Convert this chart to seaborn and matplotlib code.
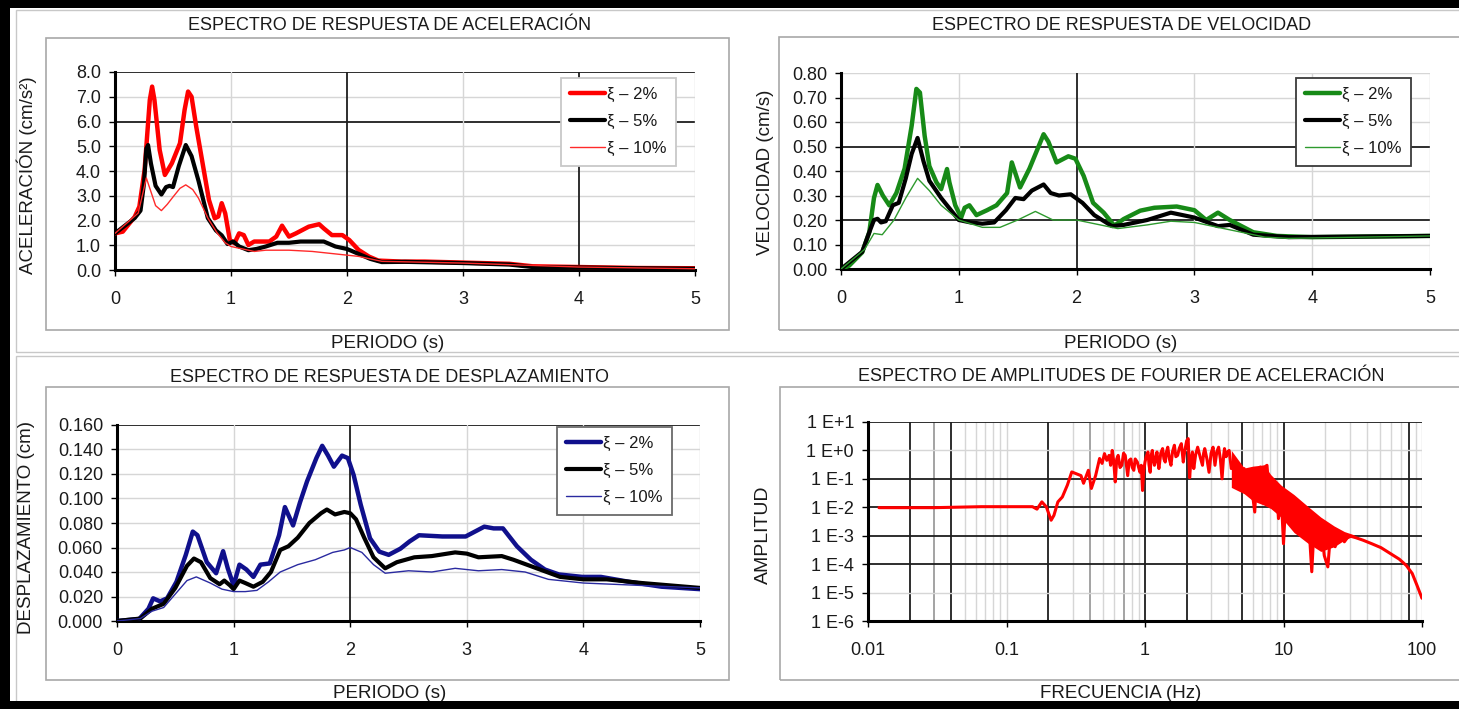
import numpy as np
import matplotlib
matplotlib.use("Agg")
import matplotlib.pyplot as plt
import seaborn as sns
from matplotlib.patches import Rectangle

sns.set_theme(style="white")
plt.rcParams["font.family"] = ["Liberation Sans", "DejaVu Sans"]

# ---------------- DATA ----------------
legend_labels = ["ξ – 2%", "ξ – 5%", "ξ – 10%"]
period_ticks = [0, 1, 2, 3, 4, 5]

# Acceleration response spectrum (cm/s2)
acc_T_2 = [0, 0.067, 0.17, 0.21, 0.255, 0.30, 0.32, 0.34, 0.385, 0.43, 0.49, 0.56, 0.60, 0.63, 0.66, 0.70,
           0.75, 0.81, 0.86, 0.89, 0.92, 0.95, 0.99, 1.03, 1.07, 1.11, 1.15, 1.2, 1.33, 1.39, 1.44, 1.50,
           1.56, 1.67, 1.76, 1.80, 1.87, 1.96, 2.02, 2.10, 2.19, 2.27, 2.47, 2.67, 3.0, 3.4, 3.6, 4.0, 4.5, 5.0]
acc_2 = [1.48, 1.55, 2.15, 2.56, 4.04, 6.87, 7.41, 6.87, 4.85, 3.84, 4.31, 5.12, 6.47, 7.21, 7.0, 5.8,
         4.45, 2.83, 2.09, 2.16, 2.70, 2.29, 1.21, 1.08, 1.48, 1.41, 1.01, 1.15, 1.15, 1.35, 1.79, 1.35,
         1.48, 1.75, 1.85, 1.68, 1.41, 1.41, 1.21, 0.81, 0.54, 0.38, 0.34, 0.34, 0.30, 0.25, 0.15, 0.12, 0.08, 0.07]
acc_T_5 = [0, 0.17, 0.22, 0.25, 0.27, 0.285, 0.31, 0.35, 0.40, 0.44, 0.47, 0.50, 0.55, 0.61, 0.66, 0.72,
           0.80, 0.87, 0.92, 0.97, 1.02, 1.07, 1.15, 1.22, 1.3, 1.4, 1.5, 1.6, 1.8, 1.9, 2.0, 2.1, 2.2,
           2.3, 2.5, 2.8, 3.0, 3.4, 3.6, 4.0, 4.5, 5.0]
acc_5 = [1.48, 2.1, 2.4, 3.5, 4.9, 5.05, 4.3, 3.4, 3.05, 3.35, 3.4, 3.35, 4.2, 5.05, 4.6, 3.6,
         2.1, 1.6, 1.4, 1.05, 1.15, 0.95, 0.8, 0.85, 0.95, 1.1, 1.1, 1.15, 1.15, 0.95, 0.85, 0.65, 0.45,
         0.32, 0.33, 0.30, 0.28, 0.22, 0.12, 0.10, 0.07, 0.05]
acc_T_10 = [0, 0.2, 0.25, 0.27, 0.30, 0.35, 0.4, 0.45, 0.5, 0.56, 0.61, 0.67, 0.72, 0.8, 0.88, 0.95,
            1.0, 1.1, 1.2, 1.3, 1.5, 1.7, 1.9, 2.0, 2.1, 2.2, 2.3, 2.5, 3.0, 3.5, 4.0, 5.0]
acc_10 = [1.48, 2.3, 3.3, 3.72, 3.3, 2.6, 2.4, 2.65, 2.95, 3.3, 3.44, 3.25, 2.9, 2.1, 1.5, 1.1,
          0.95, 0.85, 0.75, 0.8, 0.8, 0.75, 0.65, 0.6, 0.55, 0.45, 0.35, 0.33, 0.28, 0.2, 0.12, 0.05]

# Velocity response spectrum (cm/s)
vel_T_2 = [0, 0.07, 0.18, 0.24, 0.28, 0.31, 0.355, 0.41, 0.47, 0.54, 0.60, 0.64, 0.67, 0.71, 0.75, 0.81,
           0.85, 0.90, 0.92, 0.97, 1.02, 1.05, 1.09, 1.15, 1.24, 1.32, 1.41, 1.45, 1.52, 1.60, 1.72, 1.76,
           1.83, 1.93, 1.99, 2.06, 2.14, 2.23, 2.32, 2.40, 2.54, 2.66, 2.85, 3.0, 3.1, 3.2, 3.3, 3.5,
           3.7, 4.0, 5.0]
vel_2 = [0, 0.014, 0.068, 0.15, 0.29, 0.343, 0.30, 0.26, 0.31, 0.41, 0.585, 0.735, 0.72, 0.544, 0.42, 0.354,
         0.326, 0.408, 0.354, 0.26, 0.21, 0.25, 0.26, 0.22, 0.24, 0.26, 0.31, 0.435, 0.333, 0.41, 0.55, 0.52,
         0.435, 0.46, 0.45, 0.38, 0.27, 0.23, 0.177, 0.204, 0.238, 0.25, 0.255, 0.24, 0.20, 0.23, 0.20, 0.15,
         0.135, 0.13, 0.135]
vel_T_5 = [0, 0.18, 0.24, 0.28, 0.31, 0.34, 0.38, 0.44, 0.49, 0.55, 0.60, 0.65, 0.70, 0.75, 0.85, 0.95,
           1.0, 1.1, 1.2, 1.3, 1.4, 1.48, 1.55, 1.62, 1.72, 1.78, 1.85, 1.95, 2.05, 2.15, 2.3, 2.4, 2.6,
           2.8, 3.0, 3.2, 3.3, 3.5, 3.8, 5.0]
vel_5 = [0, 0.07, 0.15, 0.20, 0.205, 0.19, 0.195, 0.26, 0.27, 0.37, 0.47, 0.535, 0.44, 0.36, 0.29, 0.23,
         0.20, 0.19, 0.185, 0.19, 0.24, 0.29, 0.285, 0.32, 0.345, 0.31, 0.30, 0.305, 0.27, 0.22, 0.175, 0.18, 0.20,
         0.23, 0.21, 0.175, 0.18, 0.14, 0.13, 0.135]
vel_T_10 = [0, 0.2, 0.28, 0.35, 0.45, 0.55, 0.65, 0.75, 0.85, 1.0, 1.2, 1.35, 1.5, 1.65, 1.8, 2.0,
            2.2, 2.35, 2.6, 2.8, 3.0, 3.3, 3.6, 3.8, 5.0]
vel_10 = [0, 0.08, 0.145, 0.14, 0.20, 0.29, 0.37, 0.32, 0.26, 0.20, 0.17, 0.17, 0.20, 0.235, 0.20, 0.20,
          0.18, 0.165, 0.18, 0.195, 0.19, 0.16, 0.13, 0.125, 0.135]

# Displacement response spectrum (cm)
dis_T_2 = [0, 0.19, 0.27, 0.31, 0.37, 0.43, 0.51, 0.59, 0.65, 0.69, 0.77, 0.85, 0.91, 0.95, 1.0, 1.05,
           1.11, 1.17, 1.23, 1.31, 1.39, 1.44, 1.51, 1.57, 1.63, 1.71, 1.76, 1.81, 1.86, 1.93, 1.98, 2.03,
           2.09, 2.17, 2.25, 2.33, 2.43, 2.51, 2.59, 2.79, 2.99, 3.15, 3.23, 3.31, 3.43, 3.55, 3.67, 3.79,
           3.99, 4.15, 4.39, 4.67, 5.0]
dis_2 = [0, 0.0016, 0.010, 0.0185, 0.016, 0.0185, 0.032, 0.054, 0.073, 0.070, 0.048, 0.039, 0.057, 0.043, 0.029, 0.046,
         0.042, 0.036, 0.046, 0.047, 0.070, 0.093, 0.078, 0.097, 0.114, 0.133, 0.143, 0.135, 0.126, 0.135, 0.133, 0.119,
         0.095, 0.0675, 0.0566, 0.054, 0.059, 0.065, 0.070, 0.069, 0.069, 0.077, 0.0756, 0.0756, 0.061, 0.050, 0.042, 0.038,
         0.036, 0.036, 0.032, 0.028, 0.026]
dis_T_5 = [0, 0.2, 0.3, 0.4, 0.5, 0.6, 0.66, 0.72, 0.8, 0.88, 0.92, 0.97, 1.0, 1.05, 1.1, 1.17,
           1.25, 1.32, 1.4, 1.47, 1.55, 1.65, 1.75, 1.8, 1.87, 1.95, 2.0, 2.05, 2.12, 2.2, 2.3, 2.4,
           2.55, 2.7, 2.9, 3.0, 3.1, 3.3, 3.4, 3.6, 3.8, 4.0, 4.2, 4.5, 5.0]
dis_5 = [0, 0.002, 0.010, 0.014, 0.027, 0.045, 0.051, 0.048, 0.035, 0.030, 0.033, 0.029, 0.026, 0.033, 0.031, 0.028,
         0.032, 0.040, 0.058, 0.061, 0.068, 0.080, 0.088, 0.091, 0.087, 0.089, 0.088, 0.083, 0.068, 0.052, 0.043, 0.048,
         0.052, 0.053, 0.056, 0.055, 0.052, 0.053, 0.050, 0.043, 0.036, 0.034, 0.034, 0.031, 0.027]
dis_T_10 = [0, 0.2, 0.3, 0.4, 0.5, 0.6, 0.68, 0.8, 0.9, 1.0, 1.1, 1.2, 1.3, 1.4, 1.55, 1.7,
            1.85, 1.95, 2.0, 2.1, 2.2, 2.3, 2.5, 2.7, 2.9, 3.1, 3.3, 3.5, 3.7, 4.0, 4.5, 5.0]
dis_10 = [0, 0.002, 0.008, 0.011, 0.022, 0.033, 0.036, 0.031, 0.026, 0.024, 0.024, 0.025, 0.032, 0.040, 0.046, 0.050,
          0.056, 0.058, 0.060, 0.056, 0.046, 0.039, 0.041, 0.040, 0.043, 0.041, 0.042, 0.040, 0.034, 0.031, 0.029, 0.027]

# Fourier amplitude spectrum of acceleration
four_f = [0.012, 0.03, 0.066, 0.10, 0.154, 0.166, 0.18, 0.194, 0.21, 0.22, 0.235, 0.253, 0.275, 0.296, 0.32,
          0.345, 0.36, 0.39, 0.41, 0.44, 0.47, 0.49, 0.51, 0.53, 0.55, 0.565, 0.58, 0.595, 0.61, 0.625,
          0.64, 0.66, 0.68, 0.70, 0.72, 0.735, 0.75, 0.77, 0.79, 0.81, 0.83, 0.85, 0.88, 0.90, 0.92,
          0.94, 0.96, 0.98, 1.0, 1.02, 1.05, 1.07, 1.09, 1.11, 1.13, 1.15, 1.17, 1.20, 1.22, 1.24, 1.26,
          1.30, 1.34, 1.37, 1.40, 1.43, 1.46, 1.50, 1.54, 1.58, 1.63, 1.67, 1.72, 1.77, 1.83, 1.86, 1.89,
          1.94, 2.0, 2.05, 2.1, 2.15, 2.2, 2.25, 2.32, 2.4, 2.5, 2.6, 2.65, 2.7, 2.8, 2.9, 3.0, 3.1,
          3.2, 3.3, 3.4, 3.5, 3.6, 3.7, 3.75, 3.85, 3.95, 4.05,
          4.2, 4.4, 4.6, 4.8, 5.0, 5.2, 5.4, 5.6, 5.9, 6.2, 6.4, 6.8, 7.0, 7.3, 7.6, 7.9, 8.2, 8.5,
          8.9, 9.2, 9.6, 10.0, 10.4, 10.8, 11.2, 11.6, 12.1, 12.5, 13.4, 14.2, 15.1, 16.0, 16.7, 17.7,
          18.6, 19.7, 20.9, 22.0, 23.6, 25.5, 27.5, 29.6, 33.3, 37.4, 43.5, 50.6, 58.8, 68.5, 77.0, 85.0,
          92.0, 100.0]
four_amp = [0.0097, 0.0097, 0.0105, 0.0105, 0.0105, 0.0086, 0.0155, 0.0103, 0.0035, 0.0052, 0.0155, 0.023,
            0.06, 0.175, 0.15, 0.13, 0.07, 0.2, 0.046, 0.13, 0.52, 0.35, 0.77, 0.45, 0.67, 0.3, 1.0, 0.4,
            0.078, 0.5, 0.67, 0.25, 0.3, 0.8, 0.67, 0.3, 0.13, 0.45, 0.5, 0.25, 0.2, 0.5, 0.39, 0.25, 0.17,
            0.3, 0.039, 0.2, 0.39, 0.6, 0.88, 0.3, 0.17, 0.7, 1.0, 0.45, 0.3, 0.6, 0.88, 0.4, 0.23,
            0.8, 1.16, 0.5, 0.39, 0.9, 1.3, 0.5, 0.3, 0.9, 1.52, 0.6, 0.67, 1.2, 1.73, 0.8, 0.39,
            1.0, 2.2, 2.6, 0.11, 0.5, 0.88, 0.23, 0.7, 1.3, 0.6, 0.3, 0.8, 1.16, 0.5, 0.17, 0.8, 1.3,
            0.3, 0.9, 1.3, 0.5, 0.1, 0.7, 1.16, 0.6, 0.88, 1.0,
            0.23, 0.39, 0.078, 0.3, 0.046, 0.23, 0.06, 0.2, 0.046, 0.0068, 0.17, 0.26, 0.046,
            0.26, 0.3, 0.027, 0.1, 0.009, 0.06, 0.004, 0.035, 0.00052, 0.02, 0.0053, 0.015, 0.0023, 0.0118,
            0.0014, 0.009, 0.0011, 0.0053, 0.000054, 0.0031, 0.00061, 0.0023, 0.0002, 0.00008, 0.0018,
            0.00041, 0.0013, 0.00061, 0.001, 0.00085, 0.0007, 0.00052, 0.00038, 0.00024, 0.00015, 0.00009,
            0.000047, 0.000018, 0.0000063]
# dense band of the spectrum (upper / lower envelope)
band_f = [4.2, 5.2, 6.0, 7.2, 8.1, 9.6, 11.9, 14.9, 18.6, 23.2, 27.5, 32.4]
band_hi = [1.0, 0.24, 0.28, 0.31, 0.14, 0.06, 0.028, 0.011, 0.0045, 0.0022, 0.0014, 0.00107]
band_lo = [0.05, 0.03, 0.017, 0.012, 0.009, 0.0045, 0.0013, 0.00056, 0.00028, 0.00041, 0.0007, 0.001]
four_xticks = [0.01, 0.1, 1, 10, 100]
four_xlabels = ["0.01", "0.1", "1", "10", "100"]
four_yticks = [1e1, 1e0, 1e-1, 1e-2, 1e-3, 1e-4, 1e-5, 1e-6]
four_ylabels = ["1 E+1", "1 E+0", "1 E-1", "1 E-2", "1 E-3", "1 E-4", "1 E-5", "1 E-6"]

# ---------------- FIGURE ----------------
W, H = 1459, 709
fig = plt.figure(figsize=(W / 100, H / 100), dpi=100)
fig.patch.set_facecolor("white")


def frac(l, t, r, b):
    return [l / W, 1 - b / H, (r - l) / W, (b - t) / H]


DARK = "#1e1e1e"
LIGHT = "#d6d6d6"
TXT = "#1a1a1a"
TICK_SIZE = 13


def style_spines(ax):
    for s in ["top", "right"]:
        ax.spines[s].set_visible(False)
    for s in ["left", "bottom"]:
        ax.spines[s].set_visible(True)
        ax.spines[s].set_color("black")
        ax.spines[s].set_linewidth(2.2)
    ax.tick_params(axis="both", which="major", bottom=True, left=True, direction="out",
                   length=4, width=1, color="black", labelsize=TICK_SIZE, labelcolor=TXT)
    ax.tick_params(axis="x", pad=11)
    ax.tick_params(axis="y", pad=6)
    ax.set_xlabel("")
    ax.set_ylabel("")


def period_axes(rect, ymax, ystep, fmt, dark_y, dark_x):
    ax = fig.add_axes(frac(*rect))
    ax.set_facecolor("white")
    ax.set_xlim(0, 5)
    ax.set_ylim(0, ymax)
    yt = np.round(np.arange(0, ymax + ystep / 2, ystep), 4)
    ax.set_xticks(period_ticks)
    ax.set_yticks(yt)
    ax.set_yticklabels([fmt.format(v) for v in yt])
    for v in yt[1:]:
        dk = any(abs(v - d) < 1e-9 for d in dark_y)
        ax.axhline(v, color=DARK if dk else LIGHT, lw=1.3 if dk else 1.0, zorder=0.5)
    for v in period_ticks[1:]:
        dk = v in dark_x
        ax.axvline(v, color=DARK if dk else LIGHT, lw=1.3 if dk else 1.0, zorder=0.5)
    style_spines(ax)
    return ax


def draw_series(ax, xs, ys, colors, widths):
    for x, y, c, w, lab in zip(xs, ys, colors, widths, legend_labels):
        sns.lineplot(x=x, y=y, ax=ax, color=c, linewidth=w, label=lab, sort=False,
                     estimator=None, zorder=3)


def add_legend(ax, anchor, edge):
    leg = ax.legend(loc="upper left", bbox_to_anchor=anchor, frameon=True, fancybox=False,
                    framealpha=1, edgecolor=edge, fontsize=12, handlelength=2.1,
                    handletextpad=0.1, labelspacing=0.72, borderpad=0.55, borderaxespad=0)
    leg.get_frame().set_linewidth(1.3)
    for t in leg.get_texts():
        t.set_color(TXT)
    return leg


# Panel 1 - acceleration
ax1 = period_axes((115, 72, 695, 270), 8.0, 1.0, "{:.1f}", [6.0, 8.0], [2, 4])
draw_series(ax1, [acc_T_2, acc_T_5, acc_T_10], [acc_2, acc_5, acc_10],
            ["#ff0000", "#000000", "#ff2a2a"], [3.2, 3.0, 1.0])
add_legend(ax1, ((561 - 115) / 580, (270 - 78) / 198), "#c8c8c8")

# Panel 2 - velocity
ax2 = period_axes((841, 73, 1430, 269), 0.80, 0.10, "{:.2f}", [0.5, 0.2], [2])
draw_series(ax2, [vel_T_2, vel_T_5, vel_T_10], [vel_2, vel_5, vel_10],
            ["#178a17", "#000000", "#2e9a2e"], [3.2, 3.0, 1.0])
add_legend(ax2, ((1296 - 841) / 589, (269 - 78) / 196), "#3a3a3a")

# Panel 3 - displacement
ax3 = period_axes((117, 425, 700, 621), 0.160, 0.020, "{:.3f}", [0.16], [2])
draw_series(ax3, [dis_T_2, dis_T_5, dis_T_10], [dis_2, dis_5, dis_10],
            ["#10108c", "#000000", "#2a2aa0"], [3.2, 3.0, 1.0])
add_legend(ax3, ((557 - 117) / 583, (621 - 427) / 196), "#6a6a6a")

# Panel 4 - Fourier
ax4 = fig.add_axes(frac(868, 422, 1422, 621))
ax4.set_facecolor("white")
ax4.set_xscale("log")
ax4.set_yscale("log")
ax4.set_xlim(0.01, 100)
ax4.set_ylim(1e-6, 1e1)
dark_v = [0.02, 0.04, 0.2, 1, 2, 5, 10, 80]
mid_v = [0.03, 0.4, 0.7]
for dec in [0.01, 0.1, 1, 10]:
    for m in range(1, 10):
        v = round(dec * m, 6)
        if v <= 0.01:
            continue
        if any(abs(v - d) < 1e-9 for d in dark_v):
            ax4.axvline(v, color=DARK, lw=1.3, zorder=0.5)
        elif any(abs(v - d) < 1e-9 for d in mid_v):
            ax4.axvline(v, color="#8a8a8a", lw=1.1, zorder=0.5)
        else:
            ax4.axvline(v, color=LIGHT, lw=1.0, zorder=0.4)
ax4.axvline(100, color=LIGHT, lw=1.0, zorder=0.4)
for v in four_yticks[:-1]:
    light = v in (1e0, 1e-5)
    ax4.axhline(v, color=LIGHT if light else DARK, lw=1.0 if light else 1.3, zorder=0.5)
ax4.fill_between(band_f, band_lo, band_hi, color="#ff0000", lw=0, zorder=2.5)
sns.lineplot(x=four_f, y=four_amp, ax=ax4, color="#ff0000", linewidth=2.2, sort=False,
             estimator=None, zorder=3)
ax4.set_xticks(four_xticks)
ax4.set_xticklabels(four_xlabels)
ax4.set_yticks(four_yticks)
ax4.set_yticklabels(four_ylabels)
ax4.xaxis.set_minor_locator(matplotlib.ticker.NullLocator())
ax4.yaxis.set_minor_locator(matplotlib.ticker.NullLocator())
style_spines(ax4)


# ---------------- TEXTS ----------------
def ftext(x, y, s, size=13, rot=0, **kw):
    fig.text(x / W, 1 - y / H, s, fontsize=size, rotation=rot, ha="center", va="center",
             color=TXT, **kw)


ftext(390, 25, "ESPECTRO DE RESPUESTA DE ACELERACIÓN")
ftext(1122, 25, "ESPECTRO DE RESPUESTA DE VELOCIDAD")
ftext(389, 378, "ESPECTRO DE RESPUESTA DE DESPLAZAMIENTO")
ftext(1121, 377, "ESPECTRO DE AMPLITUDES DE FOURIER DE ACELERACIÓN")
ftext(388, 343, "PERIODO (s)", size=13.5)
ftext(1121, 343, "PERIODO (s)", size=13.5)
ftext(390, 693, "PERIODO (s)", size=13.5)
ftext(1121, 693, "FRECUENCIA (Hz)", size=13.5)
ftext(27, 175, "ACELERACIÓN (cm/s²)", size=13.5, rot=90)
ftext(765, 172, "VELOCIDAD (cm/s)", size=13.5, rot=90)
ftext(27, 528, "DESPLAZAMIENTO (cm)", size=13.5, rot=90)
ftext(763, 535, "AMPLITUD", size=14, rot=90)


# ---------------- FRAMES ----------------
def frect(l, t, r, b, **kw):
    fig.add_artist(Rectangle((l / W, 1 - b / H), (r - l) / W, (b - t) / H,
                             transform=fig.transFigure, **kw))


grey = dict(fill=False, edgecolor="#a8a8a8", lw=1.2, zorder=1)
frect(46, 38, 729, 330, **grey)
frect(779, 37, 1470, 330, **grey)
frect(46, 387, 729, 680, **grey)
frect(780, 387, 1470, 680, **grey)
frect(16, 10, 1470, 352, fill=False, edgecolor="#c8c8c8", lw=1.0, zorder=1)
frect(16, 356, 1470, 720, fill=False, edgecolor="#c8c8c8", lw=1.0, zorder=1)
black = dict(facecolor="black", edgecolor="none", zorder=20)
frect(0, 0, W, 8, **black)
frect(0, 0, 10, H, **black)
frect(0, 701, W, H, **black)

fig.savefig("out.png", dpi=100, facecolor="white")
